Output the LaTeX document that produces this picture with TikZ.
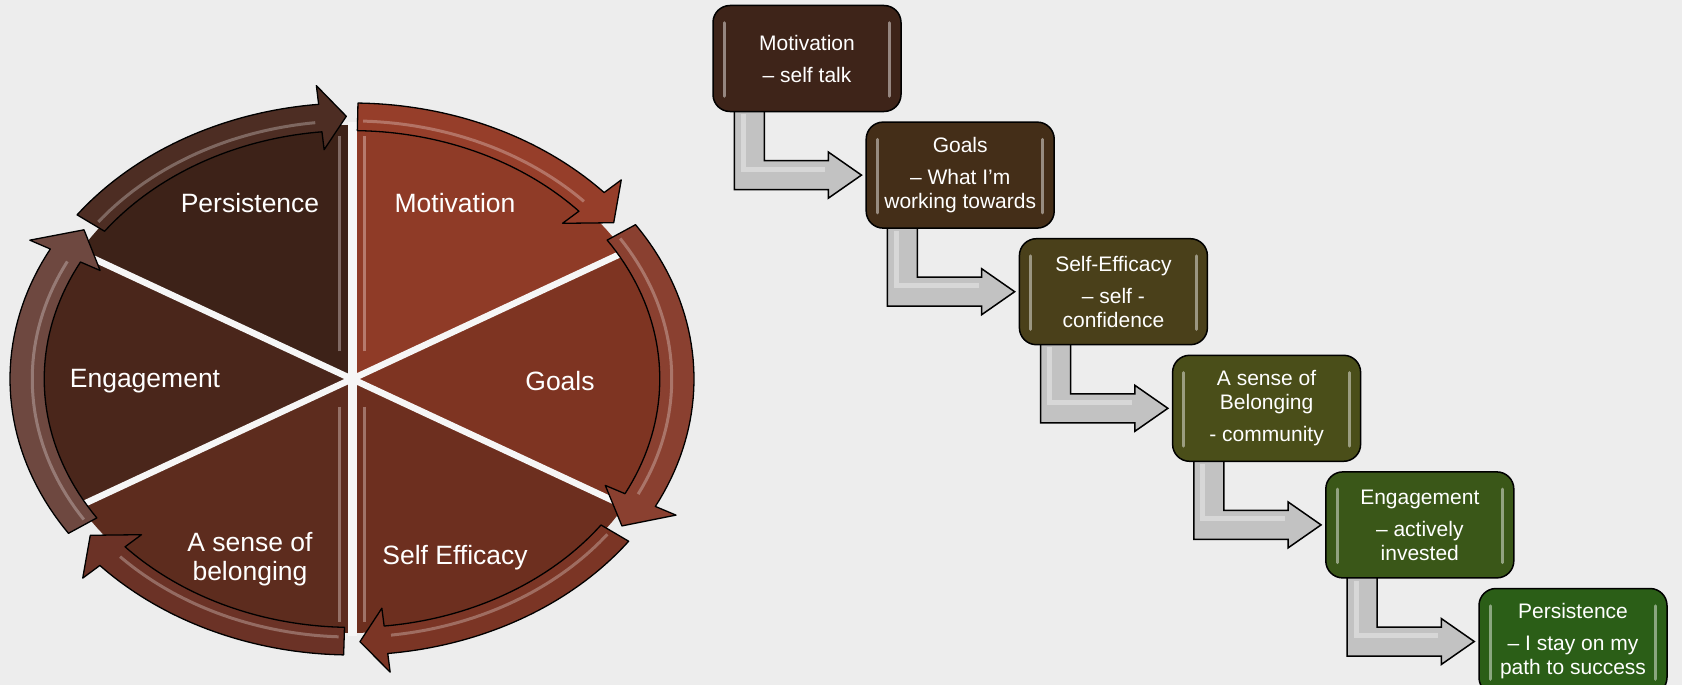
\documentclass[tikz,border=0pt]{standalone}
\usepackage{fontspec}
\setmainfont{Liberation Sans}
\usetikzlibrary{calc}

% page and wedge colours
\definecolor{bg}{HTML}{EDEDED}
\definecolor{secA}{HTML}{8F3B27}
\definecolor{secB}{HTML}{7E3422}
\definecolor{secC}{HTML}{6D2F1F}
\definecolor{secD}{HTML}{5D2C1E}
\definecolor{secE}{HTML}{4A261B}
\definecolor{secF}{HTML}{3D2218}
% ring arrow colours
\definecolor{arrA}{HTML}{963E2A}
\definecolor{arrB}{HTML}{8A4030}
\definecolor{arrC}{HTML}{7B3525}
\definecolor{arrD}{HTML}{6B3226}
\definecolor{arrE}{HTML}{6E4840}
\definecolor{arrF}{HTML}{4D2D23}
% step box colours, brown to green
\definecolor{boxA}{HTML}{3E2419}
\definecolor{boxB}{HTML}{442E18}
\definecolor{boxC}{HTML}{4A401A}
\definecolor{boxD}{HTML}{4A4E19}
\definecolor{boxE}{HTML}{3A5718}
\definecolor{boxF}{HTML}{2B5E17}
\definecolor{connfill}{HTML}{C2C2C2}
\definecolor{gapcol}{HTML}{F6F6F6}

\pgfdeclarelayer{paper}
\pgfdeclarelayer{links}
\pgfsetlayers{paper,links,main}

\tikzset{
  ringedge/.style={draw=black, line width=1.3pt, line join=round},
  ringglint/.style={line width=3pt, white, opacity=0.28},
  wedgegap/.style={draw=gapcol, line width=6.5pt},
  wedgeglint/.style={line width=3pt, white!80!pink, opacity=0.35},
  wedgetext/.style={text=white, align=center, font=\fontsize{26.5}{29}\selectfont, inner sep=0pt},
  stepbox/.style={draw=black, line width=1.5pt, rounded corners=17pt,
    minimum width=188pt, minimum height=106pt, text=white, align=center,
    font=\fontsize{21}{24}\selectfont, inner sep=0pt},
  boxglint/.style={line width=3pt, white, opacity=0.45, line cap=round},
  bendarrow/.style={draw=black, line width=1.5pt, fill=connfill, line join=miter},
  bendglint/.style={line width=5pt, white, opacity=0.35},
}

% curved ring arrow, running clockwise: #1 tail angle, #2 tip angle, #3 head length, #4 fill
\newcommand{\ringarrow}[4]{%
  \pgfmathsetmacro{\hb}{#2+#3}%
  \filldraw[ringedge, fill=#4]
    plot[domain=#1:\hb, samples=40] (\x:1) -- (\hb:1.068) -- (#2:0.952)
    -- (\hb:0.835) -- plot[domain=\hb:#1, samples=40] (\x:0.9) -- cycle;
  \draw[ringglint] plot[domain=#1-1:\hb+1, samples=40] (\x:0.935);
}

\begin{document}
\begin{tikzpicture}[x=1pt, y=-1pt]
\begin{pgfonlayer}{paper}
  \fill[bg] (0,0) rectangle (1682,685);
\end{pgfonlayer}
\useasboundingbox (0,0) rectangle (1682,685);

% ---------- segmented cycle ----------
\begin{scope}[shift={(352,379)}, x=342pt, y=276pt]
  \fill[secA] (0,0) -- plot[domain=30:90, samples=30] (\x:0.92) -- cycle;
  \fill[secB] (0,0) -- plot[domain=-30:30, samples=30] (\x:0.92) -- cycle;
  \fill[secC] (0,0) -- plot[domain=-90:-30, samples=30] (\x:0.92) -- cycle;
  \fill[secD] (0,0) -- plot[domain=-150:-90, samples=30] (\x:0.92) -- cycle;
  \fill[secE] (0,0) -- plot[domain=150:210, samples=30] (\x:0.92) -- cycle;
  \fill[secF] (0,0) -- plot[domain=90:150, samples=30] (\x:0.92) -- cycle;
  % glossy strips along the vertical edges
  \draw[wedgeglint] (0.036,0.1) -- (0.036,0.88);
  \draw[wedgeglint] (-0.036,0.1) -- (-0.036,0.88);
  \draw[wedgeglint] (0.036,-0.1) -- (0.036,-0.88);
  \draw[wedgeglint] (-0.036,-0.1) -- (-0.036,-0.88);
  % gaps between the wedges
  \foreach \a in {30,-30,150,210} \draw[wedgegap] (0,0) -- (\a:0.93);
  \draw[draw=gapcol, line width=9pt] (0,-0.93) -- (0,0.93);
  % arrows round the rim
  \ringarrow{89}{36.5}{6}{arrA}
  \ringarrow{34}{-34}{6.5}{arrB}
  \ringarrow{-36}{-88.6}{4.6}{arrC}
  \ringarrow{-91.4}{-143.5}{6}{arrD}
  \ringarrow{-146}{-214.6}{6.5}{arrE}
  \ringarrow{143.5}{91}{4.6}{arrF}
\end{scope}

\node[wedgetext] (tmot) at (455,203) {Motivation};
\node[wedgetext] (tgoal) at (560,381) {Goals};
\node[wedgetext] (teff) at (455,558) {Self Efficacy};
\node[wedgetext] (tbel) at (250,559) {A sense of\\belonging};
\node[wedgetext] (teng) at (145,381) {Engagement};
\node[wedgetext] (tper) at (250,203) {Persistence};

% ---------- step boxes ----------
\node[stepbox, fill=boxA] (b1) at (807,58.5) {Motivation\\[8pt]– self talk};
\node[stepbox, fill=boxB] (b2) at (960.2,175.1) {Goals\\[8pt]– What I’m\\working towards};
\node[stepbox, fill=boxC] (b3) at (1113.4,291.7) {Self-Efficacy\\[8pt]– self -\\confidence};
\node[stepbox, fill=boxD] (b4) at (1266.6,408.3) {A sense of\\Belonging\\[8pt]- community};
\node[stepbox, fill=boxE] (b5) at (1419.8,524.9) {Engagement\\[8pt]– actively\\invested};
\node[stepbox, fill=boxF] (b6) at (1573,641.5) {Persistence\\[8pt]– I stay on my\\path to success};

\foreach \b in {b1,b2,b3,b4,b5,b6}
  \draw[boxglint] ($(\b.north west)+(12,18)$) -- ($(\b.south west)+(12,-16)$)
                  ($(\b.north east)+(-12,18)$) -- ($(\b.south east)+(-12,-16)$);

% bent connectors, laid beneath the boxes
\begin{pgfonlayer}{links}
\foreach \i/\j in {b1/b2,b2/b3,b3/b4,b4/b5,b5/b6} {
  \draw[bendarrow] ($(\i.south west)+(22,-4)$) coordinate (ta)
    -- ($(\i.south west)+(52,-4)$)
    |- ($(\j.west)+(-37,-14.5)$)
    -- ($(\j.west)+(-37,-23)$)
    -- ($(\j.west)+(-4,0)$)
    -- ($(\j.west)+(-37,23)$)
    -- ($(\j.west)+(-37,14.5)$)
    -| (ta) -- cycle;
  \draw[bendglint] ($(\i.south west)+(31,2)$) |- ($(\j.west)+(-40,-6)$);
}
\end{pgfonlayer}
\end{tikzpicture}
\end{document}
